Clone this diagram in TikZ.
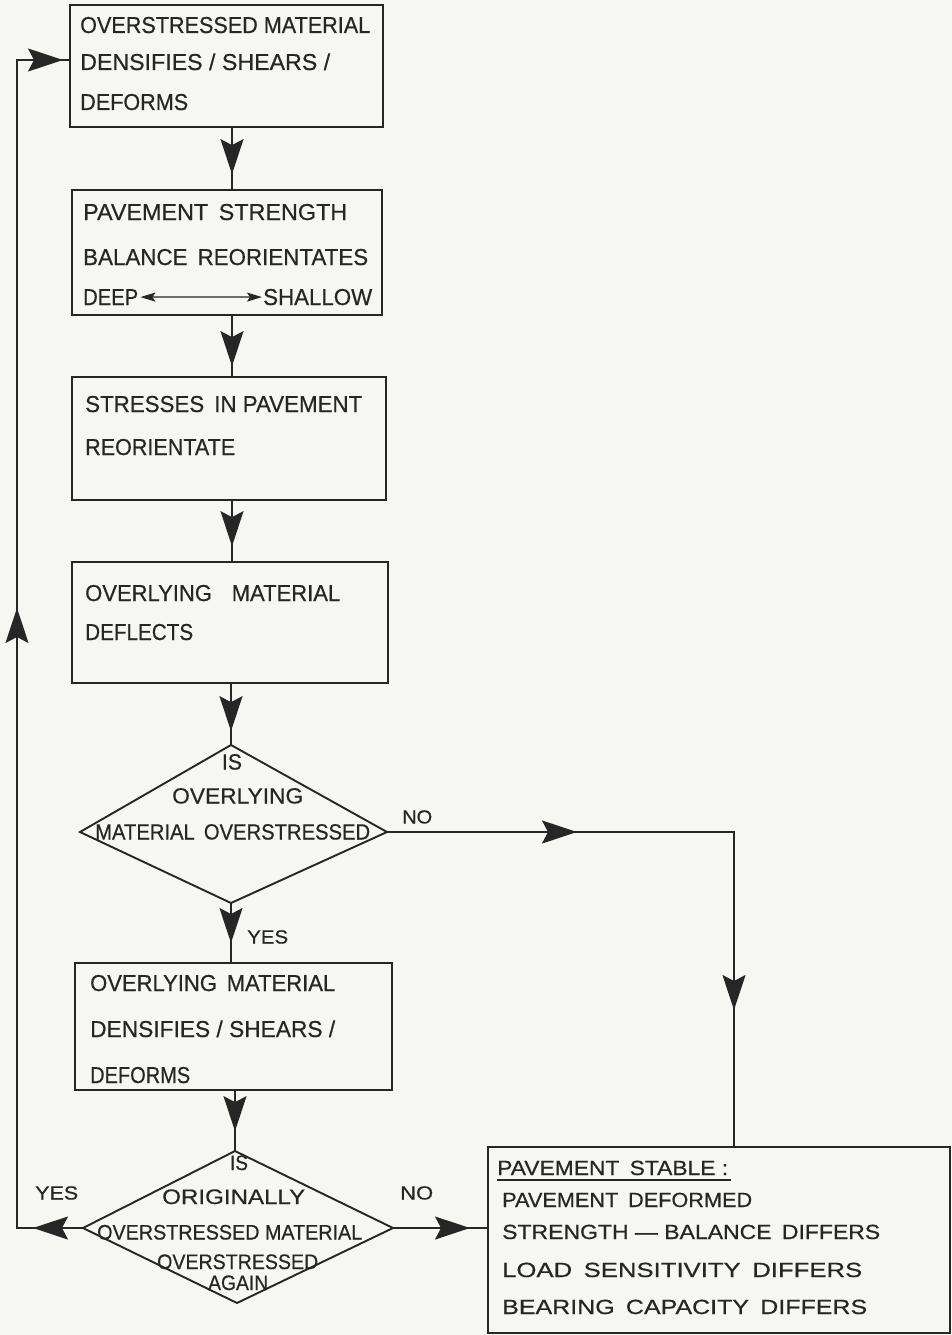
\documentclass[tikz,border=0pt]{standalone}
\usepackage{fontspec}
\setmainfont{Liberation Sans}[FakeBold=0.5]
\usepackage{graphicx}
\usetikzlibrary{arrows.meta,decorations.markings,calc}
\definecolor{ink}{RGB}{38,38,38}
\definecolor{paper}{RGB}{246,246,243}
\newcommand\tw[2]{\resizebox{#1}{\height}{#2}}
\newcommand\wg{\hspace{0.45em}}
\tikzset{
  bigtip/.tip={Stealth[length=35pt,width=23pt,inset=6pt]},
  smalltip/.tip={Stealth[length=15pt,width=9pt,inset=3pt]}
}
\begin{document}
\begin{tikzpicture}[x=1pt,y=-1pt,
  box/.style={draw=ink, line width=2.3pt, inner sep=0pt},
  dia/.style={draw=ink, line width=1.9pt, line join=miter},
  conn/.style={draw=ink, line width=1.6pt},
  txt/.style={inner sep=0pt, anchor=base west, text=ink, font=\fontsize{23}{27}\selectfont},
  dtxt/.style={txt, font=\fontsize{22}{26}\selectfont},
  etxt/.style={txt, font=\fontsize{21}{25}\selectfont},
  ltxt/.style={txt, font=\fontsize{19}{23}\selectfont},
  stxt/.style={txt, font=\fontsize{20.5}{24}\selectfont},
  midarr/.style={postaction={decorate, decoration={markings, mark=at position #1 with {\arrow[ink]{bigtip}}}}},
]
\fill[paper] (0,0) rectangle (952,1335);
\useasboundingbox (0,0) rectangle (952,1335);

% boxes
\node[box, minimum width=313pt, minimum height=122pt] (b1) at (226.5,66) {};
\node[box, minimum width=310pt, minimum height=125pt] (b2) at (227,252.5) {};
\node[box, minimum width=314pt, minimum height=123pt] (b3) at (229,438.5) {};
\node[box, minimum width=316pt, minimum height=121pt] (b4) at (230,622.5) {};
\node[box, minimum width=317pt, minimum height=127pt] (b5) at (233.5,1026.5) {};
\node[box, minimum width=462pt, minimum height=186pt] (b6) at (719,1240) {};

% diamonds
\coordinate (d1n) at (231,745);
\coordinate (d1e) at (387,832);
\coordinate (d1s) at (231,903);
\coordinate (d1w) at (80,832);
\draw[dia] (d1n) -- (d1e) -- (d1s) -- (d1w) -- cycle;
\coordinate (d2n) at (235,1151);
\coordinate (d2e) at (393,1228);
\coordinate (d2s) at (237,1303);
\coordinate (d2w) at (83,1228);
\draw[dia] (d2n) -- (d2e) -- (d2s) -- (d2w) -- cycle;

% texts box 1
\node[txt] (t1a) at (80,33) {\tw{290pt}{OVERSTRESSED MATERIAL}};
\node[txt] (t1b) at (80,70) {\tw{250pt}{DENSIFIES / SHEARS /}};
\node[txt] (t1c) at (80,110) {\tw{108pt}{DEFORMS}};
% box 2
\node[txt] (t2a) at (83,220) {\tw{264pt}{PAVEMENT\wg STRENGTH}};
\node[txt] (t2b) at (83,265) {\tw{285pt}{BALANCE\wg REORIENTATES}};
\node[txt] (deep) at (83,305) {\tw{55pt}{DEEP}};
\node[txt] (shallow) at (263,305) {\tw{109pt}{SHALLOW}};
% box 3
\node[txt] (t3a) at (85,412) {\tw{277pt}{STRESSES\wg IN PAVEMENT}};
\node[txt] (t3b) at (85,455) {\tw{150pt}{REORIENTATE}};
% box 4
\node[txt] (t4a) at (85,601) {\tw{255pt}{OVERLYING\hspace{0.9em}MATERIAL}};
\node[txt] (t4b) at (85,640) {\tw{108pt}{DEFLECTS}};
% diamond 1
\node[dtxt, anchor=base] (d1a) at (232,769.5) {\tw{20pt}{IS}};
\node[dtxt] (d1b) at (172,803.5) {\tw{131pt}{OVERLYING}};
\node[dtxt] (d1c) at (95,839.5) {\tw{275pt}{MATERIAL\wg OVERSTRESSED}};
% box 5
\node[txt] (t5a) at (90,991) {\tw{245pt}{OVERLYING\wg MATERIAL}};
\node[txt] (t5b) at (90,1037) {\tw{245pt}{DENSIFIES / SHEARS /}};
\node[txt] (t5c) at (90,1083) {\tw{100pt}{DEFORMS}};
% diamond 2
\node[etxt, anchor=base] (d2a) at (239,1170) {\tw{18pt}{IS}};
\node[etxt] (d2b) at (162,1204) {\tw{143pt}{ORIGINALLY}};
\node[etxt] (d2c) at (97,1239.5) {\tw{265pt}{OVERSTRESSED MATERIAL}};
\node[etxt] (d2d) at (157,1269) {\tw{161pt}{OVERSTRESSED}};
\node[etxt] (d2f) at (208,1290) {\tw{60pt}{AGAIN}};
% box 6
\node[stxt] (t6a) at (497,1175) {\tw{231pt}{PAVEMENT\wg STABLE :}};
\node[stxt] (t6b) at (502,1207) {\tw{250pt}{PAVEMENT\wg DEFORMED}};
\node[stxt] (t6c) at (502,1239) {\tw{378pt}{STRENGTH — BALANCE\wg DIFFERS}};
\node[stxt] (t6d) at (502,1277) {\tw{360pt}{LOAD\wg SENSITIVITY\wg DIFFERS}};
\node[stxt] (t6e) at (502,1314) {\tw{365pt}{BEARING\wg CAPACITY\wg DIFFERS}};
\draw[ink, line width=1.6pt] ([yshift=-5pt]t6a.base west) -- ([yshift=-5pt,xshift=3pt]t6a.base east);

% labels
\node[ltxt] (no1) at (402,823.5) {\tw{30pt}{NO}};
\node[ltxt] (yes1) at (247,943.5) {\tw{41pt}{YES}};
\node[ltxt] (yes2) at (35,1199.5) {\tw{43pt}{YES}};
\node[ltxt] (no2) at (400,1199.5) {\tw{33pt}{NO}};

% connectors
\coordinate (spine) at (232,0);
\coordinate (noX) at (734,0);
\coordinate (retX) at (17,0);
\coordinate (retY) at (0,60);
\draw[conn, midarr=46pt] (b1.south -| spine) -- (b2.north -| spine);
\draw[conn, midarr=50pt] (b2.south -| spine) -- (b3.north -| spine);
\draw[conn, midarr=45pt] (b3.south -| spine) -- (b4.north -| spine);
\draw[conn, midarr=47pt] (b4.south -| d1n) -- (d1n);
\draw[conn, midarr=40pt] (d1s) -- (b5.north -| d1s);
\draw[conn, midarr=40pt] (b5.south -| d2n) -- (d2n);
\draw[conn, midarr=77pt] (d2e) -- (b6.west |- d2e);
\draw[conn, postaction={decorate, decoration={markings,
    mark=at position 190pt with {\arrow[ink]{bigtip}},
    mark=at position 525pt with {\arrow[ink]{bigtip}}}}]
  (d1e) -| (b6.north -| noX);
\draw[conn, postaction={decorate, decoration={markings,
    mark=at position 50pt with {\arrow[ink]{bigtip}},
    mark=at position 686pt with {\arrow[ink]{bigtip}},
    mark=at position 1280pt with {\arrow[ink]{bigtip}}}}]
  (d2w) -| (retX |- retY) -- (b1.west |- retY);
\draw[ink, line width=1.3pt, {smalltip}-{smalltip}] ([xshift=2pt]deep.east) -- ([xshift=-1pt]shallow.west);
\end{tikzpicture}
\end{document}
